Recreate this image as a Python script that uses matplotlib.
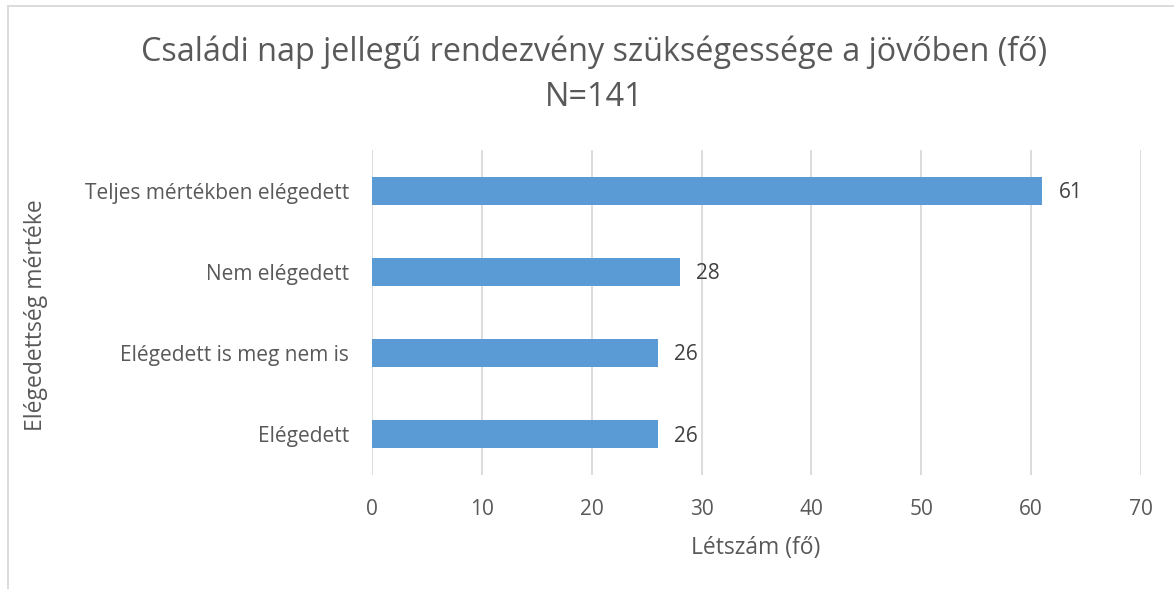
import matplotlib.pyplot as plt
from matplotlib.lines import Line2D

# Adatok
kategoriak = ['Elégedett', 'Elégedett is meg nem is', 'Nem elégedett', 'Teljes mértékben elégedett']
letszam = [26, 26, 28, 61]
x_tickek = [0, 10, 20, 30, 40, 50, 60, 70]

szurke = '#595959'
racs = '#D9D9D9'
kek = '#5B9BD5'

plt.rcParams['font.family'] = ['Open Sans', 'DejaVu Sans']

fig = plt.figure(figsize=(11.74, 5.89), dpi=100)
ax = fig.add_axes([372 / 1174, 1 - 475 / 589, (1141 - 372) / 1174, (475 - 150) / 589])

y = range(len(kategoriak))
ax.barh(y, letszam, height=0.345, color=kek, zorder=3)

for i, v in enumerate(letszam):
    ax.text(v + 1.5, i - 0.02, str(v), va='center', ha='left', fontsize=15, color='#404040')

ax.set_xlim(0, 70)
ax.set_ylim(-0.5, len(kategoriak) - 0.5)
ax.set_xticks(x_tickek)
ax.set_yticks(list(y))
ax.set_yticklabels(kategoriak)
ax.tick_params(axis='both', length=0, labelsize=15, labelcolor=szurke)
ax.tick_params(axis='x', pad=17)
ax.tick_params(axis='y', pad=16.5)
ax.grid(axis='x', color=racs, linewidth=1.3, zorder=0)
for s in ax.spines.values():
    s.set_visible(False)

# tengelyfeliratok
fig.text(756 / 1174, 1 - 548 / 589, 'Létszám (fő)', ha='center', va='center', fontsize=16.5, color=szurke)
fig.text(36 / 1174, 1 - 315 / 589, 'Elégedettség mértéke', ha='center', va='center',
         rotation=90, fontsize=16.5, color=szurke)

fig.text(594 / 1174, 1 - 52 / 589, 'Családi nap jellegű rendezvény szükségessége a jövőben (fő)',
         ha='center', va='center', fontsize=23.3, color=szurke)
fig.text(594 / 1174, 1 - 97 / 589, 'N=141', ha='center', va='center', fontsize=23.3, color=szurke)

# keret (bal és felső él)
fig.add_artist(Line2D([8 / 1174, 8 / 1174], [0, 1 - 6 / 589], transform=fig.transFigure, color=racs, linewidth=1.3))
fig.add_artist(Line2D([8 / 1174, 1], [1 - 6 / 589, 1 - 6 / 589], transform=fig.transFigure, color=racs, linewidth=1.3))

fig.savefig('out.png', dpi=100)
